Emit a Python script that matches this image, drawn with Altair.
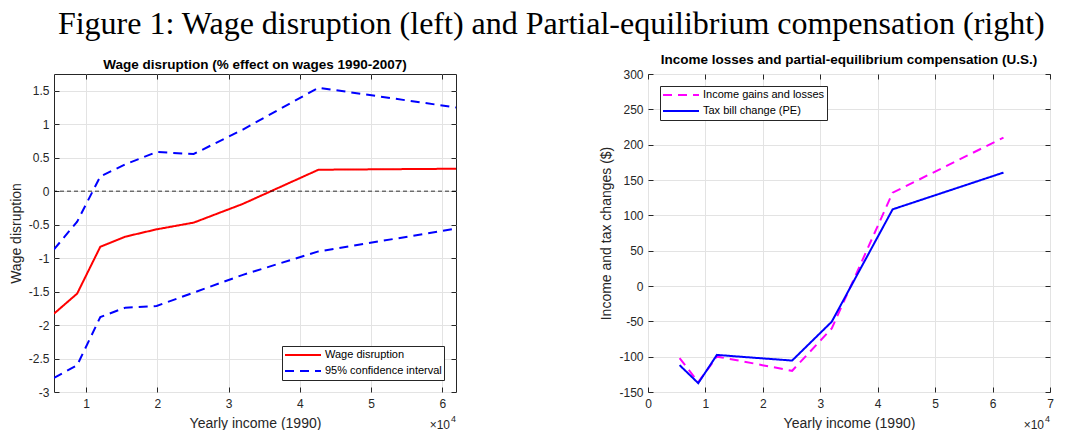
import altair as alt
import pandas as pd

# ---- data ----
income = [5500, 8750, 12000, 15500, 19900, 25100, 32000, 42600, 61900]

wage_disruption = [-1.83, -1.53, -0.83, -0.68, -0.57, -0.47, -0.19, 0.32, 0.335]
ci_upper = [-0.87, -0.455, 0.22, 0.40, 0.585, 0.555, 0.92, 1.545, 1.25]
ci_lower = [-2.79, -2.60, -1.88, -1.74, -1.715, -1.515, -1.25, -0.90, -0.56]

income_gains = [-102, -136, -100, -105, -112, -120, -60, 132, 210]
tax_bill = [-112, -137.5, -97.5, -99.7, -102.4, -105.5, -50.5, 108.5, 160.5]

left_series = ["Wage disruption", "95% confidence interval"]
right_series = ["Income gains and losses", "Tax bill change (PE)"]

left_xticks = [10000, 20000, 30000, 40000, 50000, 60000]
left_yticks = [-3, -2.5, -2, -1.5, -1, -0.5, 0, 0.5, 1, 1.5]
right_xticks = [0, 10000, 20000, 30000, 40000, 50000, 60000, 70000]
right_yticks = [-150, -100, -50, 0, 50, 100, 150, 200, 250, 300]

W, H = 402, 318
FONT = "Liberation Sans"
INK = "#262626"

left_df = pd.concat([
    pd.DataFrame({"income": income, "value": wage_disruption, "series": left_series[0], "part": "main"}),
    pd.DataFrame({"income": income, "value": ci_upper, "series": left_series[1], "part": "upper"}),
    pd.DataFrame({"income": income, "value": ci_lower, "series": left_series[1], "part": "lower"}),
])
right_df = pd.concat([
    pd.DataFrame({"income": income, "value": income_gains, "series": right_series[0], "part": "gains"}),
    pd.DataFrame({"income": income, "value": tax_bill, "series": right_series[1], "part": "tax"}),
])


def main_axes_x(ticks, title):
    return alt.Axis(values=ticks, orient="bottom", labelExpr="'' + datum.value / 10000", title=title,
                    grid=True, offset=-5, tickSize=5, domain=False,
                    labelPadding=6, titlePadding=7, labelFlush=False)


def main_axes_y(ticks, title):
    return alt.Axis(values=ticks, orient="left", labelExpr="'' + datum.value", title=title,
                    grid=True, offset=-5, tickSize=5, domain=False,
                    labelPadding=5, titlePadding=5, labelFlush=False)


def box_axes(ticks, orient):
    return alt.Axis(values=ticks, orient=orient, labels=False, title=None, grid=False,
                    offset=-5, tickSize=5, domain=False)


def make_legend(orient):
    return alt.Legend(title=None, orient=orient, offset=12, clipHeight=14)


def panel(df, xdom, ydom, xticks, yticks, ytitle, ptitle, series, colors, dashes,
          legend_orient, with_zero):
    xs = alt.Scale(domain=xdom, nice=False, zero=False)
    ys = alt.Scale(domain=ydom, nice=False, zero=False)
    lines = alt.Chart(df).mark_line(strokeWidth=2, clip=True).encode(
        x=alt.X("income:Q", scale=xs, axis=main_axes_x(xticks, "Yearly income (1990)")),
        y=alt.Y("value:Q", scale=ys, axis=main_axes_y(yticks, ytitle)),
        color=alt.Color("series:N", scale=alt.Scale(domain=series, range=colors),
                        legend=make_legend(legend_orient)),
        strokeDash=alt.StrokeDash("series:N", scale=alt.Scale(domain=series, range=dashes),
                                  legend=make_legend(legend_orient)),
        detail="part:N",
    )
    box = alt.Chart(df).mark_line(opacity=0).encode(
        x=alt.X("income:Q", scale=xs, axis=box_axes(xticks, "top")),
        y=alt.Y("value:Q", scale=ys, axis=box_axes(yticks, "right")),
        detail="part:N",
    )
    exp_df = pd.DataFrame({"t": ["\u00d710"], "e": ["4"]})
    exp_main = alt.Chart(exp_df).mark_text(align="right", baseline="alphabetic", fontSize=12,
                                           font=FONT, color=INK).encode(
        x=alt.value(W - 6), y=alt.value(H + 37), text="t:N")
    exp_sup = alt.Chart(exp_df).mark_text(align="left", baseline="alphabetic", fontSize=9,
                                          font=FONT, color=INK).encode(
        x=alt.value(W - 5), y=alt.value(H + 30), text="e:N")
    layers = [lines, box]
    if with_zero:
        zero_rule = alt.Chart(pd.DataFrame({"z": [0]})).mark_rule(
            color="black", strokeDash=[4, 3], strokeWidth=0.8).encode(
            y=alt.Y("z:Q", scale=ys, axis=None))
        layers.append(zero_rule)
    layers += [exp_main, exp_sup]
    return alt.layer(*layers).resolve_axis(x="independent", y="independent").properties(
        width=W, height=H,
        title=alt.TitleParams(ptitle, fontSize=13.5, fontWeight="bold", font=FONT,
                              color="black", offset=2),
    )


left = panel(left_df, [5500, 61900], [-3, 1.75], left_xticks, left_yticks, "Wage disruption",
             "Wage disruption (% effect on wages 1990-2007)", left_series,
             ["#ff0000", "#0000ff"], [[1, 0], [9, 6]], "bottom-right", True)
right = panel(right_df, [0, 70000], [-150, 300], right_xticks, right_yticks,
              "Income and tax changes ($)",
              "Income losses and partial-equilibrium compensation (U.S.)", right_series,
              ["#ff00ff", "#0000ff"], [[9, 6], [1, 0]], "top-left", False)

chart = alt.hconcat(left, right, spacing=192, bounds="flush").resolve_scale(
    color="independent", strokeDash="independent"
).properties(
    padding=0,
    title=alt.TitleParams("Figure 1: Wage disruption (left) and Partial-equilibrium compensation (right)",
                          font="Liberation Serif", fontSize=32, fontWeight="normal",
                          color="black", anchor="middle", dx=20, offset=11),
).configure_view(stroke=INK, strokeWidth=1).configure_axis(
    labelFont=FONT, titleFont=FONT, labelFontSize=12, titleFontSize=14,
    labelColor=INK, titleColor=INK, tickColor=INK, gridColor="#e3e3e3",
    titleFontWeight="normal",
).configure_legend(
    labelFont=FONT, labelFontSize=11, labelColor="black", fillColor="white",
    strokeColor=INK, padding=2, symbolType="stroke", symbolSize=1296,
    symbolStrokeWidth=2, rowPadding=2, labelOffset=3,
)

chart.save("out.html", embed_options={"renderer": "svg", "actions": False})
